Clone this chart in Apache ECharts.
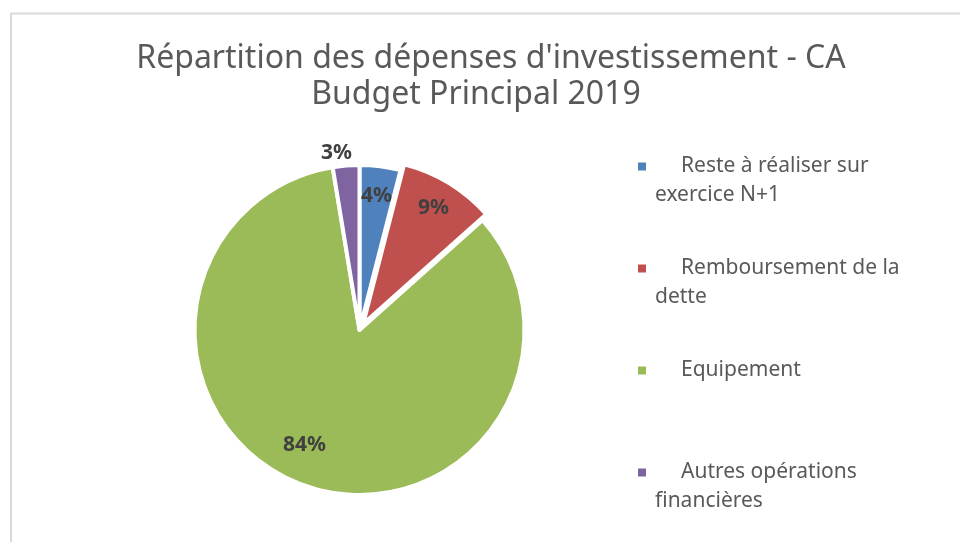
<!DOCTYPE html>
<html>
<head>
<meta charset="utf-8">
<script src="https://cdn.jsdelivr.net/npm/echarts@6/dist/echarts.min.js"></script>
<style>
html,body{margin:0;padding:0;background:#fff;}
#chart{width:960px;height:542px;}
</style>
</head>
<body>
<div id="chart"></div>
<script>
// ---- data ----
var categories = ['Reste à réaliser sur exercice N+1', 'Remboursement de la dette', 'Equipement', 'Autres opérations financières'];
var legendLines = [
  ['Reste à réaliser sur', 'exercice N+1'],
  ['Remboursement de la', 'dette'],
  ['Equipement', ' '],
  ['Autres opérations', 'financières']
];
var values = [4.0, 9.4, 84.0, 2.6];
var colors = ['#4F81BD', '#C0504D', '#9BBB59', '#8064A2'];
var explodedIndex = 1;
var titleLine1 = "Répartition des dépenses d'investissement - CA";
var titleLine2 = "Budget Principal 2019";

var FONT = 'Noto Sans';

var chart = echarts.init(document.getElementById('chart'), null, {renderer: 'canvas'});

var mainData = categories.map(function (c, i) {
  return {name: c, value: values[i], selected: i === explodedIndex, itemStyle: {color: colors[i]}};
});
var labelData = categories.map(function (c, i) {
  var d = {name: c, value: values[i], selected: i === explodedIndex, itemStyle: {color: 'rgba(0,0,0,0)', borderWidth: 0}};
  if (i === 3) {
    d.label = {position: 'outside', distanceToLabelLine: -7};
    d.labelLine = {show: false, length: 13, length2: 0};
  }
  return d;
});

var rich = {
  g: {width: 35, fontSize: 21, lineHeight: 29},
  ind: {width: 17, fontSize: 21, lineHeight: 29}
};
colors.forEach(function (col, i) {
  rich['m' + i] = {width: 8, height: 8, backgroundColor: col, lineHeight: 29};
});

var option = {
  backgroundColor: '#ffffff',
  animation: false,
  title: {
    text: titleLine1 + '\n' + titleLine2 + '{pad|}',
    left: 491,
    top: 41,
    textAlign: 'center',
    padding: 0,
    textStyle: {
      fontFamily: FONT, fontSize: 32, fontWeight: 'normal', color: '#595959', lineHeight: 36,
      rich: {pad: {width: 30, lineHeight: 36}}
    }
  },
  legend: {
    orient: 'vertical',
    left: 632,
    top: 152,
    padding: 0,
    itemWidth: 0,
    itemHeight: 0,
    itemGap: 44,
    selectedMode: false,
    data: categories.map(function (c) { return {name: c, itemStyle: {color: 'rgba(0,0,0,0)'}}; }),
    formatter: function (name) {
      var i = categories.indexOf(name);
      var l = legendLines[i];
      return '{m' + i + '|}{g|}' + l[0] + '\n{ind|}' + l[1];
    },
    textStyle: {fontFamily: FONT, fontSize: 21, color: '#595959', lineHeight: 29, rich: rich}
  },
  graphic: [{
    type: 'rect',
    shape: {x: 11, y: 13.5, width: 1000, height: 600},
    style: {fill: 'none', stroke: '#d9d9d9', lineWidth: 2},
    silent: true,
    z: -10
  }],
  series: [{
    type: 'pie',
    name: 'main',
    center: [359.5, 330],
    radius: 165,
    startAngle: 90,
    clockwise: true,
    selectedMode: 'multiple',
    selectedOffset: 7,
    avoidLabelOverlap: false,
    itemStyle: {borderColor: '#ffffff', borderWidth: 4},
    label: {show: false},
    labelLine: {show: false},
    emphasis: {disabled: true},
    data: mainData
  }, {
    type: 'pie',
    name: 'labels',
    center: [359.5, 330],
    radius: [100, 165],
    startAngle: 90,
    clockwise: true,
    selectedMode: 'multiple',
    selectedOffset: 7,
    silent: true,
    avoidLabelOverlap: false,
    z: 3,
    label: {
      show: true,
      position: 'inside',
      fontFamily: FONT,
      fontSize: 21,
      fontWeight: 'bold',
      color: '#404040',
      formatter: function (p) { return Math.round(p.percent) + '%'; }
    },
    labelLayout: function (p) {
      if (p.dataIndex === 2) { return {dx: -10, dy: -13}; }
      return {};
    },
    labelLine: {show: false},
    emphasis: {disabled: true},
    data: labelData
  }]
};
chart.setOption(option);
</script>
</body>
</html>
